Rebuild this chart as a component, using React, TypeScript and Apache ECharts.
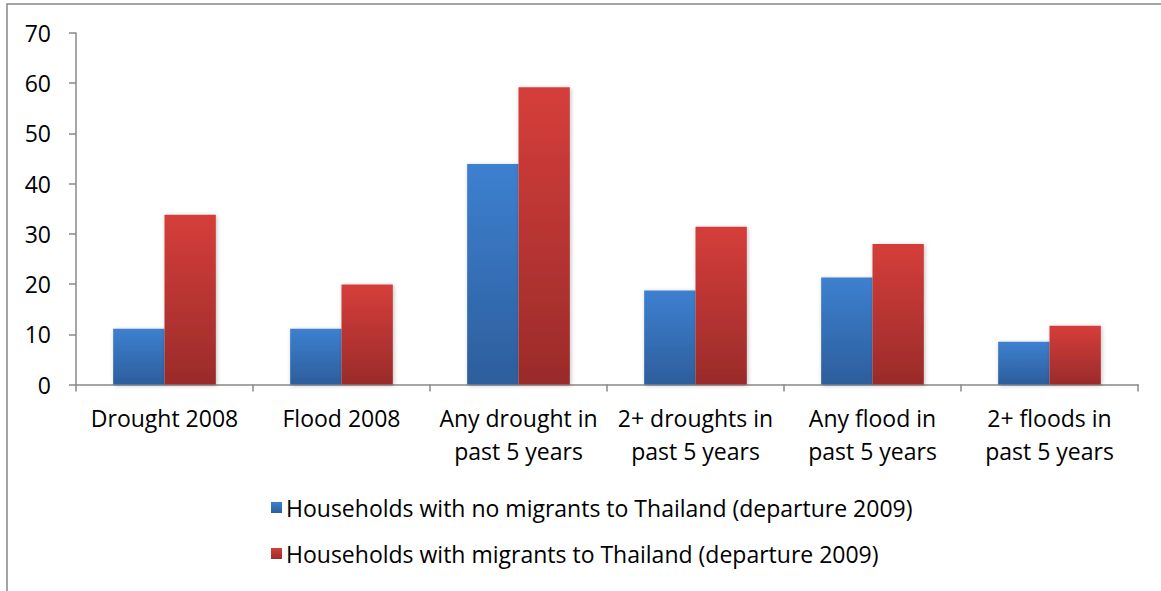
import React, { useEffect, useRef } from "react";
import * as echarts from "echarts";

const categories = [
  "Drought 2008",
  "Flood 2008",
  "Any drought in\npast 5 years",
  "2+ droughts in\npast 5 years",
  "Any flood in\npast 5 years",
  "2+ floods in\npast 5 years",
];
const noMigrants = [11.1, 11.1, 43.9, 18.7, 21.3, 8.5];
const withMigrants = [33.8, 19.9, 59.2, 31.4, 28.0, 11.7];
const seriesNames = [
  "Households with no migrants to Thailand (departure 2009)",
  "Households with migrants to Thailand (departure 2009)",
];

const FONT = "Open Sans";
const FS = 23;

export default function App() {
  const ref = useRef<HTMLDivElement>(null);
  useEffect(() => {
    if (!ref.current) return;
    const chart = echarts.init(ref.current, undefined, { renderer: "svg" });
    const blue = new echarts.graphic.LinearGradient(0, 0, 0, 1, [
      { offset: 0, color: "#3D80D0" },
      { offset: 1, color: "#2D5E9C" },
    ]);
    const red = new echarts.graphic.LinearGradient(0, 0, 0, 1, [
      { offset: 0, color: "#D53E3A" },
      { offset: 1, color: "#9A2B2A" },
    ]);
    chart.setOption({
      animation: false,
      backgroundColor: "#fff",
      textStyle: { fontFamily: FONT },
      graphic: [
        {
          type: "rect",
          shape: { x: 7, y: 4, width: 1300, height: 800 },
          style: { fill: "none", stroke: "#888", lineWidth: 1.5 },
          silent: true,
        },
      ],
      grid: { left: 76, top: 33, right: 23, bottom: 206.5, containLabel: false },
      legend: {
        orient: "vertical",
        left: 266,
        top: 491,
        itemWidth: 11,
        itemHeight: 11,
        itemGap: 23,
        icon: "rect",
        textStyle: { fontSize: FS, color: "#000", fontFamily: FONT, padding: [0, 0, 0, -1] },
        data: seriesNames,
      },
      xAxis: {
        type: "category",
        data: categories,
        axisLine: { lineStyle: { color: "#888", width: 1.5 } },
        axisTick: { show: true, length: 7, lineStyle: { color: "#888", width: 1.5 } },
        axisLabel: {
          fontSize: FS,
          color: "#000",
          fontFamily: FONT,
          lineHeight: 33,
          margin: 17,
          interval: 0,
        },
      },
      yAxis: {
        type: "value",
        min: 0,
        max: 70,
        interval: 10,
        axisLine: { show: true, lineStyle: { color: "#888", width: 1.5 } },
        axisTick: { show: true, length: 7, lineStyle: { color: "#888", width: 1.5 } },
        splitLine: { show: false },
        axisLabel: { fontSize: FS, color: "#000", fontFamily: FONT, margin: 25 },
      },
      series: [
        {
          name: seriesNames[0],
          type: "bar",
          data: noMigrants,
          barGap: "0%",
          barCategoryGap: "42%",
          itemStyle: { color: blue, shadowColor: "rgba(0,0,0,0.25)", shadowBlur: 4, shadowOffsetX: 1, shadowOffsetY: 1 },
        },
        {
          name: seriesNames[1],
          type: "bar",
          data: withMigrants,
          barGap: "0%",
          barCategoryGap: "42%",
          itemStyle: { color: red, shadowColor: "rgba(0,0,0,0.25)", shadowBlur: 4, shadowOffsetX: 1, shadowOffsetY: 1 },
        },
      ],
    });
    return () => chart.dispose();
  }, []);
  return <div ref={ref} style={{ width: 1161, height: 591, position: "absolute", left: 0, top: 0 }} />;
}
